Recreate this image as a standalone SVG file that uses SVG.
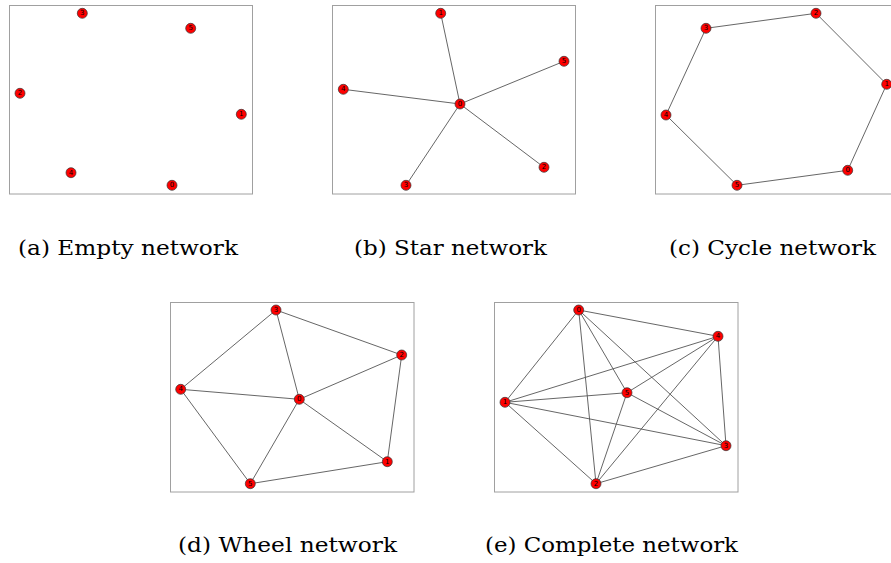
<svg xmlns="http://www.w3.org/2000/svg" width="891" height="563" viewBox="0 0 891 563">
<style>
.box{fill:none;stroke:#a0a0a0;stroke-width:1}
.e{stroke:#555;stroke-width:0.9;fill:none}
.n circle{fill:#ff0000;stroke:#333;stroke-width:0.7}
.n text{font-family:"DejaVu Sans",sans-serif;font-size:7px;fill:#000;text-anchor:middle;dominant-baseline:central}
.cap{font-family:"DejaVu Serif","Liberation Serif",serif;font-size:21px;fill:#000}
</style>
<rect width="891" height="563" fill="#fff"/>
<!-- Panel a -->
<rect class="box" x="9.5" y="5.5" width="243" height="188.5"/>
<g id="a-nodes">
<g id="a3" class="n"><circle cx="82.3" cy="13.3" r="5"/><text x="82.3" y="13.3">3</text></g>
<g id="a5" class="n"><circle cx="190.7" cy="28.3" r="5"/><text x="190.7" y="28.3">5</text></g>
<g id="a2" class="n"><circle cx="20" cy="93.3" r="5"/><text x="20" y="93.3">2</text></g>
<g id="a1" class="n"><circle cx="241.3" cy="114.3" r="5"/><text x="241.3" y="114.3">1</text></g>
<g id="a4" class="n"><circle cx="71" cy="172.7" r="5"/><text x="71" y="172.7">4</text></g>
<g id="a0" class="n"><circle cx="172" cy="185.3" r="5"/><text x="172" y="185.3">0</text></g>
</g>
<text class="cap" x="18" y="255" textLength="220" lengthAdjust="spacingAndGlyphs">(a) Empty network</text>
<!-- Panel b -->
<rect class="box" x="332.5" y="5.5" width="243" height="188.5"/>
<g id="b-edges">
<line class="e" x1="460" y1="104" x2="440.7" y2="13.3"/>
<line class="e" x1="460" y1="104" x2="564" y2="61.3"/>
<line class="e" x1="460" y1="104" x2="343.3" y2="89.3"/>
<line class="e" x1="460" y1="104" x2="544" y2="167.3"/>
<line class="e" x1="460" y1="104" x2="406" y2="185.3"/>
</g>
<g id="b-nodes">
<g id="b1" class="n"><circle cx="440.7" cy="13.3" r="5"/><text x="440.7" y="13.3">1</text></g>
<g id="b5" class="n"><circle cx="564" cy="61.3" r="5"/><text x="564" y="61.3">5</text></g>
<g id="b4" class="n"><circle cx="343.3" cy="89.3" r="5"/><text x="343.3" y="89.3">4</text></g>
<g id="b0" class="n"><circle cx="460" cy="104" r="5"/><text x="460" y="104">0</text></g>
<g id="b2" class="n"><circle cx="544" cy="167.3" r="5"/><text x="544" y="167.3">2</text></g>
<g id="b3" class="n"><circle cx="406" cy="185.3" r="5"/><text x="406" y="185.3">3</text></g>
</g>
<text class="cap" x="354" y="255" textLength="193" lengthAdjust="spacingAndGlyphs">(b) Star network</text>
<!-- Panel c -->
<rect class="box" x="655.5" y="5.5" width="243" height="188.5"/>
<g id="c-edges">
<polygon class="e" points="847.7,170.3 886.7,84.3 816,13.3 706,28.3 666,115 737,185.3"/>
</g>
<g id="c-nodes">
<g id="c2" class="n"><circle cx="816" cy="13.3" r="5"/><text x="816" y="13.3">2</text></g>
<g id="c3" class="n"><circle cx="706" cy="28.3" r="5"/><text x="706" y="28.3">3</text></g>
<g id="c1" class="n"><circle cx="886.7" cy="84.3" r="5"/><text x="886.7" y="84.3">1</text></g>
<g id="c4" class="n"><circle cx="666" cy="115" r="5"/><text x="666" y="115">4</text></g>
<g id="c0" class="n"><circle cx="847.7" cy="170.3" r="5"/><text x="847.7" y="170.3">0</text></g>
<g id="c5" class="n"><circle cx="737" cy="185.3" r="5"/><text x="737" y="185.3">5</text></g>
</g>
<text class="cap" x="669" y="255" textLength="207" lengthAdjust="spacingAndGlyphs">(c) Cycle network</text>
<!-- Panel d -->
<rect class="box" x="170.5" y="302.5" width="243.5" height="189.5"/>
<g id="d-edges">
<polygon class="e" points="387.3,461.7 401.7,355 276,310 180.7,389.3 250.3,483.7"/>
<line class="e" x1="299.3" y1="399.3" x2="387.3" y2="461.7"/>
<line class="e" x1="299.3" y1="399.3" x2="401.7" y2="355"/>
<line class="e" x1="299.3" y1="399.3" x2="276" y2="310"/>
<line class="e" x1="299.3" y1="399.3" x2="180.7" y2="389.3"/>
<line class="e" x1="299.3" y1="399.3" x2="250.3" y2="483.7"/>
</g>
<g id="d-nodes">
<g id="d3" class="n"><circle cx="276" cy="310" r="5"/><text x="276" y="310">3</text></g>
<g id="d2" class="n"><circle cx="401.7" cy="355" r="5"/><text x="401.7" y="355">2</text></g>
<g id="d4" class="n"><circle cx="180.7" cy="389.3" r="5"/><text x="180.7" y="389.3">4</text></g>
<g id="d0" class="n"><circle cx="299.3" cy="399.3" r="5"/><text x="299.3" y="399.3">0</text></g>
<g id="d1" class="n"><circle cx="387.3" cy="461.7" r="5"/><text x="387.3" y="461.7">1</text></g>
<g id="d5" class="n"><circle cx="250.3" cy="483.7" r="5"/><text x="250.3" y="483.7">5</text></g>
</g>
<text class="cap" x="178" y="552" textLength="219" lengthAdjust="spacingAndGlyphs">(d) Wheel network</text>
<!-- Panel e -->
<rect class="box" x="494.5" y="302.5" width="243.5" height="189.5"/>
<g id="e-edges">
<line class="e" x1="578.7" y1="310" x2="718" y2="336.3"/>
<line class="e" x1="578.7" y1="310" x2="505" y2="402.3"/>
<line class="e" x1="578.7" y1="310" x2="627" y2="392.7"/>
<line class="e" x1="578.7" y1="310" x2="726" y2="445.7"/>
<line class="e" x1="578.7" y1="310" x2="596" y2="483.7"/>
<line class="e" x1="718" y1="336.3" x2="505" y2="402.3"/>
<line class="e" x1="718" y1="336.3" x2="627" y2="392.7"/>
<line class="e" x1="718" y1="336.3" x2="726" y2="445.7"/>
<line class="e" x1="718" y1="336.3" x2="596" y2="483.7"/>
<line class="e" x1="505" y1="402.3" x2="627" y2="392.7"/>
<line class="e" x1="505" y1="402.3" x2="726" y2="445.7"/>
<line class="e" x1="505" y1="402.3" x2="596" y2="483.7"/>
<line class="e" x1="627" y1="392.7" x2="726" y2="445.7"/>
<line class="e" x1="627" y1="392.7" x2="596" y2="483.7"/>
<line class="e" x1="726" y1="445.7" x2="596" y2="483.7"/>
</g>
<g id="e-nodes">
<g id="e0" class="n"><circle cx="578.7" cy="310" r="5"/><text x="578.7" y="310">0</text></g>
<g id="e4" class="n"><circle cx="718" cy="336.3" r="5"/><text x="718" y="336.3">4</text></g>
<g id="e1" class="n"><circle cx="505" cy="402.3" r="5"/><text x="505" y="402.3">1</text></g>
<g id="e5" class="n"><circle cx="627" cy="392.7" r="5"/><text x="627" y="392.7">5</text></g>
<g id="e3" class="n"><circle cx="726" cy="445.7" r="5"/><text x="726" y="445.7">3</text></g>
<g id="e2" class="n"><circle cx="596" cy="483.7" r="5"/><text x="596" y="483.7">2</text></g>
</g>
<text class="cap" x="485" y="552" textLength="253" lengthAdjust="spacingAndGlyphs">(e) Complete network</text>
</svg>
